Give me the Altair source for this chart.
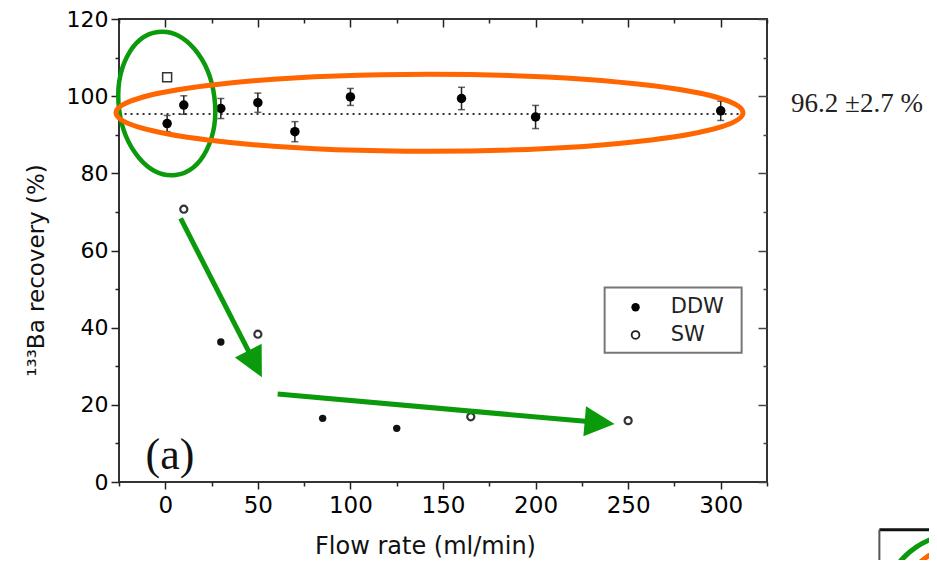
import altair as alt
import pandas as pd

# ---------------- data ----------------
# DDW (high recovery, with error bars)
ddw_x = [1, 10, 30, 50, 70, 100, 160, 200, 300]
ddw_y = [92.9, 97.7, 96.8, 98.3, 90.8, 99.8, 99.4, 94.6, 96.2]
ddw_err = [2.1, 2.4, 2.6, 2.5, 2.6, 2.2, 2.9, 3.0, 2.5]

# low recovery points
ddw_low_x = [30, 85, 125]
ddw_low_y = [36.3, 16.5, 13.9]
sw_x = [10, 50, 165, 250]
sw_y = [70.7, 38.3, 16.9, 15.9]
sw_sq_x = [1]
sw_sq_y = [104.9]

mean_value = 96.2
std_value = 2.7
mean_line_y = 95.4
mean_line_x = [-22, 313]

x_major = [0, 50, 100, 150, 200, 250, 300]
x_minor = [-25, 25, 75, 125, 175, 225, 275, 325]
y_major = [0, 20, 40, 60, 80, 100, 120]
y_minor = [10, 30, 50, 70, 90, 110]

legend_labels = ["DDW", "SW"]
legend_x = [254]
legend_y = [45.3, 38.1]
legend_text_x = [273]
legend_box = [237.3, 311.3, 33.5, 50.4]

panel_label = "(a)"
panel_label_pos = [2.5, 6.7]
note_pos = [338, 97.9]

# annotation shapes (centres in data units)
green_ellipse = [0.8, 98.1]
orange_ellipse = [142.7, 95.7]
arrow_lines = [[8.3, 68.3, 48.5, 30.6], [60.7, 22.8, 234.6, 15.4]]
arrow_heads = [[48.5, 30.6, 153], [234.6, 15.4, 95]]

GREEN = "#0b9a0b"
ORANGE = "#ff6600"
W, H = 648, 463

xs = alt.Scale(domain=[-25, 325], nice=False, zero=False)
ys = alt.Scale(domain=[0, 120], nice=False, zero=False)


def X(f="x", axis=None):
    return alt.X(f, type="quantitative", scale=xs, axis=axis)


def Y(f="y", axis=None):
    return alt.Y(f, type="quantitative", scale=ys, axis=axis)


FONT = "DejaVu Sans"

x_axis_main = alt.Axis(orient="bottom", values=x_major, tickSize=7, tickWidth=1.5, tickColor="#222",
                       labelFont=FONT, labelFontSize=23, labelColor="#000", labelPadding=5,
                       domain=False, grid=False, title="Flow rate (ml/min)",
                       titleFont=FONT, titleFontSize=24, titleFontWeight="normal",
                       titleColor="#111", titleX=306, titleY=64, titleBaseline="middle")
y_axis_main = alt.Axis(orient="left", values=y_major, tickSize=8, tickWidth=1.5, tickColor="#222",
                       labelFont=FONT, labelFontSize=22, labelColor="#000", labelPadding=3,
                       domain=False, grid=False, title="¹³³Ba recovery (%)",
                       titleFont=FONT, titleFontSize=23, titleFontWeight="normal",
                       titleColor="#111", titleX=-83, titleY=251, titleBaseline="middle",
                       titleAngle=270)
x_axis_minor = alt.Axis(orient="bottom", values=x_minor, tickSize=4, tickWidth=1.5, tickColor="#222",
                        labels=False, domain=False, grid=False, title=None)
y_axis_minor = alt.Axis(orient="left", values=y_minor, tickSize=4, tickWidth=1.5, tickColor="#222",
                        labels=False, domain=False, grid=False, title=None)
x_axis_top = alt.Axis(orient="bottom", offset=-H, values=x_major, tickSize=8, tickWidth=1.5,
                      tickColor="#222", labels=False, domain=False, grid=False, title=None)
y_axis_right = alt.Axis(orient="left", offset=-W, values=y_major, tickSize=9, tickWidth=1.5,
                        tickColor="#444", labels=False, domain=False, grid=False, title=None)
x_axis_top_minor = alt.Axis(orient="bottom", offset=-H, values=x_minor, tickSize=4, tickWidth=1.5,
                            tickColor="#222", labels=False, domain=False, grid=False, title=None)
y_axis_right_minor = alt.Axis(orient="left", offset=-W, values=y_minor, tickSize=4, tickWidth=1.5,
                              tickColor="#444", labels=False, domain=False, grid=False, title=None)

ddw = pd.DataFrame({"x": ddw_x, "y": ddw_y, "err": ddw_err})
ddw["lo"] = ddw["y"] - ddw["err"]
ddw["hi"] = ddw["y"] + ddw["err"]
ddw_low = pd.DataFrame({"x": ddw_low_x, "y": ddw_low_y})
sw = pd.DataFrame({"x": sw_x, "y": sw_y})
sw_sq = pd.DataFrame({"x": sw_sq_x, "y": sw_sq_y})

# error bars
err_rule = alt.Chart(ddw).mark_rule(color="#222", strokeWidth=1.5).encode(
    x=X(axis=x_axis_minor), y=Y("lo", axis=y_axis_minor), y2="hi")
cap_lo = alt.Chart(ddw).mark_tick(color="#222", thickness=1.5, size=7, orient="horizontal").encode(
    x=X(), y=Y("lo"))
cap_hi = alt.Chart(ddw).mark_tick(color="#222", thickness=1.5, size=7, orient="horizontal").encode(
    x=X(), y=Y("hi"))

ddw_pts = alt.Chart(ddw).mark_point(shape="circle", filled=True, color="#000", size=90, opacity=1).encode(
    x=X(axis=x_axis_main), y=Y(axis=y_axis_main))
ddw_low_pts = alt.Chart(ddw_low).mark_point(shape="circle", filled=True, color="#111", size=55, opacity=1).encode(
    x=X(axis=x_axis_top), y=Y(axis=y_axis_right))
sw_pts = alt.Chart(sw).mark_point(shape="circle", filled=False, color="#333", strokeWidth=2.2, size=50, opacity=1).encode(
    x=X(axis=x_axis_top_minor), y=Y(axis=y_axis_right_minor))
sw_sq_pts = alt.Chart(sw_sq).mark_point(shape="square", filled=False, color="#333", strokeWidth=1.5, size=80, opacity=1).encode(
    x=X(), y=Y())

# dotted mean line
mean_df = pd.DataFrame({"x": [mean_line_x[0]], "x2": [mean_line_x[1]], "y": [mean_line_y]})
mean_rule = alt.Chart(mean_df).mark_rule(color="#333", strokeWidth=2, strokeDash=[2, 4]).encode(
    x=X(), x2="x2", y=Y())

# legend box
leg_box_df = pd.DataFrame({"x": [legend_box[0]], "x2": [legend_box[1]], "y": [legend_box[2]], "y2": [legend_box[3]]})
leg_box = alt.Chart(leg_box_df).mark_rect(fill="white", stroke="#777", strokeWidth=2).encode(
    x=X(), x2="x2", y=Y(), y2="y2")
leg_fill = alt.Chart(pd.DataFrame({"x": legend_x, "y": [legend_y[0]]})).mark_point(
    shape="circle", filled=True, color="#000", size=70, opacity=1).encode(x=X(), y=Y())
leg_open = alt.Chart(pd.DataFrame({"x": legend_x, "y": [legend_y[1]]})).mark_point(
    shape="circle", filled=False, color="#222", strokeWidth=1.8, size=60, opacity=1).encode(x=X(), y=Y())
leg_text = alt.Chart(pd.DataFrame({"x": legend_text_x * 2, "y": legend_y, "t": legend_labels})).mark_text(
    align="left", baseline="middle", font=FONT, fontSize=21, color="#222").encode(x=X(), y=Y(), text="t:N")

# texts
note = alt.Chart(pd.DataFrame({"x": [note_pos[0]], "y": [note_pos[1]],
                               "t": [f"{mean_value} ±{std_value} %"]})).mark_text(
    align="left", baseline="middle", font="Liberation Serif", fontSize=27, color="#222").encode(
    x=X(), y=Y(), text="t:N")
plabel = alt.Chart(pd.DataFrame({"x": [panel_label_pos[0]], "y": [panel_label_pos[1]],
                                 "t": [panel_label]})).mark_text(
    align="center", baseline="middle", font="Liberation Serif", fontSize=44, color="#111").encode(
    x=X(), y=Y(), text="t:N")

# annotation ellipses (custom symbol paths in unit coordinates)
def ellipse_path(a, b):
    k = 0.5523
    return (f"M {a} 0 C {a} {k*b:.4f} {k*a:.4f} {b} 0 {b} "
            f"C {-k*a:.4f} {b} {-a} {k*b:.4f} {-a} 0 "
            f"C {-a} {-k*b:.4f} {-k*a:.4f} {-b} 0 {-b} "
            f"C {k*a:.4f} {-b} {a} {-k*b:.4f} {a} 0 Z")

green_e = alt.Chart(pd.DataFrame({"x": [green_ellipse[0]], "y": [green_ellipse[1]]})).mark_point(
    shape=ellipse_path(0.667, 1), filled=False, color=GREEN, strokeWidth=4.5, size=144 ** 2,
    opacity=1, angle=353).encode(x=X(), y=Y())
orange_e = alt.Chart(pd.DataFrame({"x": [orange_ellipse[0]], "y": [orange_ellipse[1]]})).mark_point(
    shape=ellipse_path(1, 0.1228), filled=False, color=ORANGE, strokeWidth=5, size=627 ** 2,
    opacity=1).encode(x=X(), y=Y())

arrow_df = pd.DataFrame(arrow_lines, columns=["x", "y", "x2", "y2"])
arrows = alt.Chart(arrow_df).mark_rule(color=GREEN, strokeWidth=5).encode(
    x=X(), y=Y(), x2="x2", y2="y2")
heads_df = pd.DataFrame(arrow_heads, columns=["x", "y", "a"])
heads = alt.Chart(heads_df).mark_point(shape="M 0 -1 L 1 1 L -1 1 Z", filled=True, color=GREEN,
                                        size=900, opacity=1).encode(
    x=X(), y=Y(), angle=alt.Angle("a:Q", scale=None))

# next panel peeking in at the bottom right
corner_df = pd.DataFrame({"x": [385.7], "x2": [420], "y": [-12.4], "y2": [-30]})
corner_top = alt.Chart(corner_df).mark_rule(color="#111", strokeWidth=3).encode(x=X(), x2="x2", y=Y())
corner_left = alt.Chart(corner_df).mark_rule(color="#555", strokeWidth=2).encode(x=X(), y=Y(), y2="y2")
peek = alt.Chart(pd.DataFrame({"x": [429, 437.2], "y": [-33.7, -37], "c": [GREEN, ORANGE],
                               "s": [156 ** 2, 166 ** 2]})).mark_point(
    shape="circle", filled=False, strokeWidth=5, opacity=1).encode(
    x=X(), y=Y(), color=alt.Color("c:N", scale=None), size=alt.Size("s:Q", scale=None))

chart = alt.layer(
    mean_rule, err_rule, cap_lo, cap_hi, ddw_pts, ddw_low_pts, sw_pts, sw_sq_pts,
    leg_box, leg_fill, leg_open, leg_text, note, plabel,
    green_e, orange_e, arrows, heads, corner_top, corner_left, peek
).resolve_axis(x="independent", y="independent").properties(
    width=W, height=H,
    autosize=alt.AutoSizeParams(type="none"),
    padding={"left": 111, "top": 11, "right": 162, "bottom": 78},
    background="white",
).configure_view(stroke="#333", strokeWidth=2)

chart.save("out.html", embed_options={"renderer": "svg", "actions": False})
